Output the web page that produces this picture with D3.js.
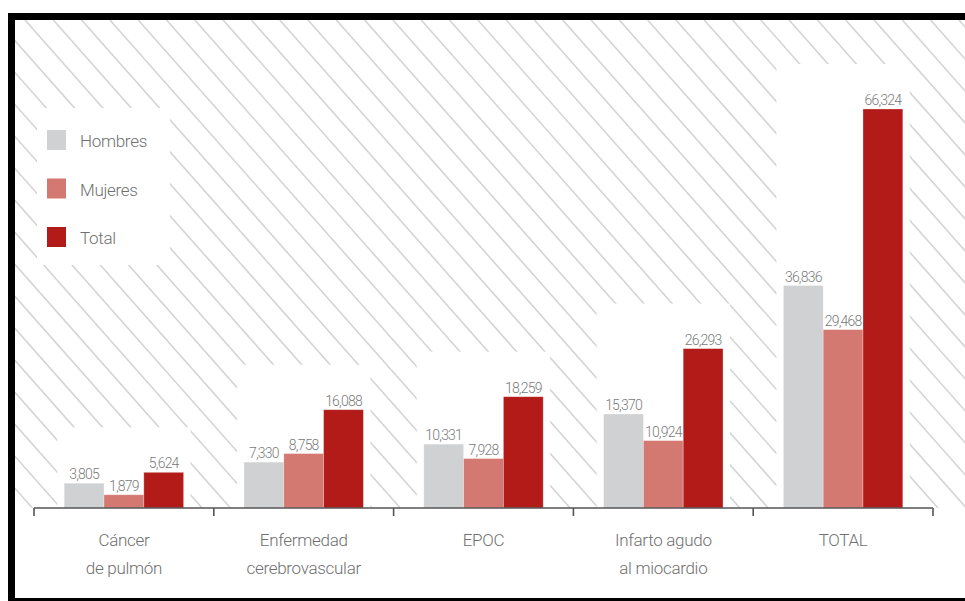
<!DOCTYPE html>
<html>
<head>
<meta charset="utf-8">
<script src="https://cdn.jsdelivr.net/npm/d3@7"></script>
<style>
    html, body { margin: 0; padding: 0; background: #fff; }
    svg { display: block; font-family: Roboto, "Liberation Sans", sans-serif; }
</style>
</head>
<body>
<div id="chart"></div>
<script>
// chart data
const categories = ['Cáncer de pulmón', 'Enfermedad cerebrovascular', 'EPOC', 'Infarto agudo al miocardio', 'TOTAL'];
const categoryLines = [['Cáncer', 'de pulmón'], ['Enfermedad', 'cerebrovascular'], ['EPOC'], ['Infarto agudo', 'al miocardio'], ['TOTAL']];
const series = ['Hombres', 'Mujeres', 'Total'];
const hombres = [3805, 7330, 10331, 15370, 36836];
const mujeres = [1879, 8758, 7928, 10924, 29468];
const total = [5624, 16088, 18259, 26293, 66324];
const colors = ['#d0d1d3', '#d47872', '#b31b18'];

const width = 965, height = 601;
const axisY = 508, topY = 109;
const groupWidth = 119.4;

const svg = d3.select('#chart').append('svg')
    .attr('width', width)
    .attr('height', height);

// scales
const x0 = d3.scaleBand().domain(categories).range([34, 933]);
const x1 = d3.scaleBand().domain(series)
    .range([x0.bandwidth() / 2 - groupWidth / 2, x0.bandwidth() / 2 + groupWidth / 2]);
// bars in the original sit a couple of pixels proud of the axis
const y = d3.scaleLinear().domain([0, d3.max(total)]).range([axisY - 2, topY]);
const color = d3.scaleOrdinal().domain(series).range(colors);

const rows = categories.map((c, i) => ({
    category: c,
    lines: categoryLines[i],
    values: [hombres[i], mujeres[i], total[i]].map((v, j) => ({ key: series[j], value: v }))
}));

// hatched background, clipped to the plot area
svg.append('clipPath').attr('id', 'hatch-clip')
    .append('rect')
    .attr('x', 15).attr('y', 20)
    .attr('width', width - 15).attr('height', axisY - 20);

const slope = 1.13, step = 28.3, startX = 25;
const hatchLen = (axisY - 20) / slope;
const hatch = svg.append('g').attr('clip-path', 'url(#hatch-clip)');
d3.range(-18, 36).forEach(k => {
    const sx = startX + k * step;
    hatch.append('line')
        .attr('x1', sx).attr('y1', 20)
        .attr('x2', sx + hatchLen).attr('y2', axisY)
        .style('stroke', '#d4d4d4')
        .style('stroke-width', 1.6);
});

// white areas that cut the hatch: legend and each bar group
svg.append('rect')
    .attr('x', 37).attr('y', 108)
    .attr('width', 133).attr('height', 157)
    .style('fill', '#fff');

svg.append('g')
    .selectAll('rect')
    .data(rows)
    .enter()
    .append('rect')
    .attr('x', d => x0(d.category) + x1.range()[0] - 7)
    .attr('y', d => y(d3.max(d.values, v => v.value)) - 45)
    .attr('width', groupWidth + 14)
    .attr('height', d => axisY - y(d3.max(d.values, v => v.value)) + 45)
    .style('fill', '#fff');

// bars
const groups = svg.append('g')
    .selectAll('g')
    .data(rows)
    .enter()
    .append('g')
    .attr('transform', d => `translate(${x0(d.category)},0)`);

groups.selectAll('rect')
    .data(d => d.values)
    .enter()
    .append('rect')
    .attr('x', d => x1(d.key))
    .attr('y', d => y(d.value))
    .attr('width', x1.bandwidth())
    .attr('height', d => axisY - y(d.value))
    .style('fill', d => color(d.key))
    .style('stroke', 'rgba(255,255,255,0.35)')
    .style('stroke-width', 0.8);

// value labels
groups.selectAll('text')
    .data(d => d.values)
    .enter()
    .append('text')
    .attr('x', d => x1(d.key) + x1.bandwidth() / 2)
    .attr('y', d => y(d.value) - 4)
    .attr('text-anchor', 'middle')
    .style('font-size', '14px')
    .style('font-weight', 300)
    .style('letter-spacing', '-0.8px')
    .style('fill', '#7a7a7a')
    .text(d => d3.format(',')(d.value));

// axis line and ticks at band edges
const axis = svg.append('g');
axis.append('line')
    .attr('x1', x0.range()[0]).attr('x2', x0.range()[1])
    .attr('y1', axisY).attr('y2', axisY)
    .style('stroke', '#555')
    .style('stroke-width', 1.6);

const edges = categories.map(c => x0(c)).concat([x0.range()[1]]);
axis.selectAll('line.tick')
    .data(edges)
    .enter()
    .append('line')
    .attr('class', 'tick')
    .attr('x1', d => d).attr('x2', d => d)
    .attr('y1', axisY).attr('y2', axisY + 8)
    .style('stroke', '#555')
    .style('stroke-width', 1.6);

// category labels
const catLabels = svg.append('g')
    .selectAll('text')
    .data(rows)
    .enter()
    .append('text')
    .attr('x', d => x0(d.category) + x0.bandwidth() / 2)
    .attr('y', 546)
    .attr('text-anchor', 'middle')
    .style('font-size', '17px')
    .style('font-weight', 300)
    .style('letter-spacing', '-0.3px')
    .style('fill', '#707070');

catLabels.selectAll('tspan')
    .data(d => d.lines.map(l => ({ text: l, x: x0(d.category) + x0.bandwidth() / 2 })))
    .enter()
    .append('tspan')
    .attr('x', d => d.x)
    .attr('dy', (d, i) => i === 0 ? 0 : 28)
    .text(d => d.text);

// legend
const legend = svg.append('g')
    .selectAll('g')
    .data(series)
    .enter()
    .append('g')
    .attr('transform', (d, i) => `translate(47,${130 + i * 48.5})`);

legend.append('rect')
    .attr('width', 19).attr('height', 20)
    .style('fill', d => color(d));

legend.append('text')
    .attr('x', 33).attr('y', 17)
    .style('font-size', '17px')
    .style('font-weight', 300)
    .style('letter-spacing', '-0.3px')
    .style('fill', '#707070')
    .text(d => d);

// black frame, right side runs off the page
svg.append('rect')
    .attr('x', 11.5).attr('y', 16.5)
    .attr('width', 1000).attr('height', 585)
    .style('fill', 'none')
    .style('stroke', '#000')
    .style('stroke-width', 7);
</script>
</body>
</html>
